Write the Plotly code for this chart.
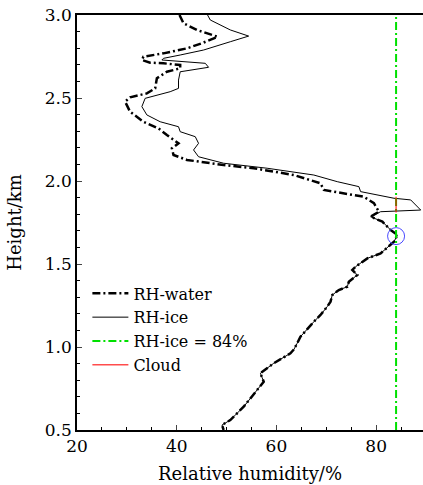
import plotly.graph_objects as go

# RH-water profile (relative humidity %, height km), top -> bottom
water_rh = [40.56, 41.37, 44.06, 48.20, 45.07, 42.05, 37.35, 33.33, 33.01, 34.67,
            37.35, 40.70, 40.70, 38.03, 36.02, 35.68, 34.01, 30.65, 29.65, 30.65,
            33.33, 36.34, 38.03, 40.36, 39.03, 39.36, 42.05, 49.41, 55.44, 63.48,
            68.84, 69.51, 77.55, 79.56, 80.56, 78.89, 81.25, 82.91, 84.26, 83.58,
            80.90, 78.23, 75.88, 75.22, 76.22, 74.53, 74.21, 72.52, 71.20, 70.85,
            70.19, 68.84, 67.50, 64.82, 64.16, 63.50, 62.81, 59.46, 56.78, 57.45,
            56.12, 53.43, 50.75, 49.09, 49.41]
water_h = [3.000, 2.950, 2.910, 2.869, 2.830, 2.799, 2.769, 2.749, 2.729, 2.713,
           2.709, 2.699, 2.679, 2.658, 2.619, 2.558, 2.528, 2.504, 2.478, 2.417,
           2.357, 2.317, 2.277, 2.227, 2.197, 2.157, 2.127, 2.096, 2.077, 2.036,
           1.986, 1.946, 1.905, 1.866, 1.815, 1.785, 1.755, 1.705, 1.675, 1.634,
           1.564, 1.534, 1.484, 1.464, 1.434, 1.393, 1.363, 1.343, 1.313, 1.273,
           1.243, 1.193, 1.152, 1.062, 1.022, 0.985, 0.962, 0.902, 0.842, 0.791,
           0.741, 0.640, 0.560, 0.530, 0.500]

# RH-ice profile, upper part (above where it merges with RH-water)
ice_upper_rh = [46.19, 46.73, 50.75, 54.43, 50.75, 45.39, 40.70, 37.35, 37.03, 40.70,
                45.73, 46.39, 42.71, 40.70, 40.36, 40.36, 38.69, 36.02, 33.67, 33.01,
                34.01, 36.68, 40.36, 40.70, 43.72, 44.38, 43.38, 44.38, 49.41, 58.13,
                67.50, 72.20, 76.54, 76.88, 83.58, 86.93, 88.28, 88.94, 80.90]
ice_upper_h = [3.000, 2.970, 2.910, 2.873, 2.839, 2.789, 2.759, 2.739, 2.729, 2.719,
               2.709, 2.685, 2.669, 2.658, 2.608, 2.558, 2.538, 2.518, 2.498, 2.448,
               2.398, 2.357, 2.327, 2.297, 2.267, 2.227, 2.187, 2.146, 2.107, 2.077,
               2.036, 1.996, 1.966, 1.936, 1.896, 1.886, 1.845, 1.825, 1.815]
merge_index = 35  # below this water index, RH-ice equals RH-water
ice_rh = ice_upper_rh + water_rh[merge_index:]
ice_h = ice_upper_h + water_h[merge_index:]

threshold_rh = 84
cloud_h = [1.81, 1.905]
marker_rh = [84.0]
marker_h = [1.668]

serif = "DejaVu Serif"

fig = go.Figure()
fig.add_trace(go.Scatter(x=water_rh, y=water_h, mode="lines", name="RH-water",
                         line=dict(color="black", width=2.5, dash="8px,3px,2px,3px")))
fig.add_trace(go.Scatter(x=ice_rh, y=ice_h, mode="lines", name="RH-ice",
                         line=dict(color="black", width=1)))
fig.add_trace(go.Scatter(x=[threshold_rh, threshold_rh], y=[0.5, 3.0], mode="lines",
                         name="RH-ice = 84%",
                         line=dict(color="#00e000", width=2, dash="8px,3px,2px,3px")))
fig.add_trace(go.Scatter(x=[threshold_rh, threshold_rh], y=cloud_h, mode="lines",
                         name="Cloud", line=dict(color="red", width=1.5),
                         opacity=0.7))
fig.add_trace(go.Scatter(x=marker_rh, y=marker_h, mode="markers", showlegend=False,
                         marker=dict(symbol="circle-open", size=17,
                                     color="#4a4aff", line=dict(width=1))))

fig.update_layout(
    width=423, height=485,
    margin=dict(l=77, r=0, t=15, b=55),
    plot_bgcolor="white", paper_bgcolor="white",
    font=dict(family=serif, size=16, color="black"),
    showlegend=True,
    legend=dict(x=0.03, y=0.37, xanchor="left", yanchor="top",
                bgcolor="rgba(0,0,0,0)", font=dict(family=serif, size=16),
                tracegroupgap=0, itemwidth=36),
    xaxis=dict(range=[20, 89.4], tickvals=[20, 40, 60, 80], ticks="inside",
               ticklen=5, tickwidth=1, showline=True, linecolor="black", linewidth=1.5,
               mirror=True, showgrid=False, zeroline=False,
               tickfont=dict(family=serif, size=17),
               minor=dict(dtick=5, tick0=20, ticks="inside", ticklen=3, tickcolor="black",
                          showgrid=False),
               title=dict(text="Relative humidity/%", font=dict(family=serif, size=18),
                          standoff=12)),
    yaxis=dict(range=[0.5, 3.0], dtick=0.5, tick0=0.5, tickformat=".1f", ticks="inside",
               ticklen=5, tickwidth=1, showline=True, linecolor="black", linewidth=1.5,
               mirror=False, showgrid=False, zeroline=False,
               tickfont=dict(family=serif, size=17),
               minor=dict(dtick=0.1, ticks="inside", ticklen=3, tickcolor="black",
                          showgrid=False),
               title=dict(text="Height/km", font=dict(family=serif, size=18),
                          standoff=19)),
)

fig.write_html("out.html")
